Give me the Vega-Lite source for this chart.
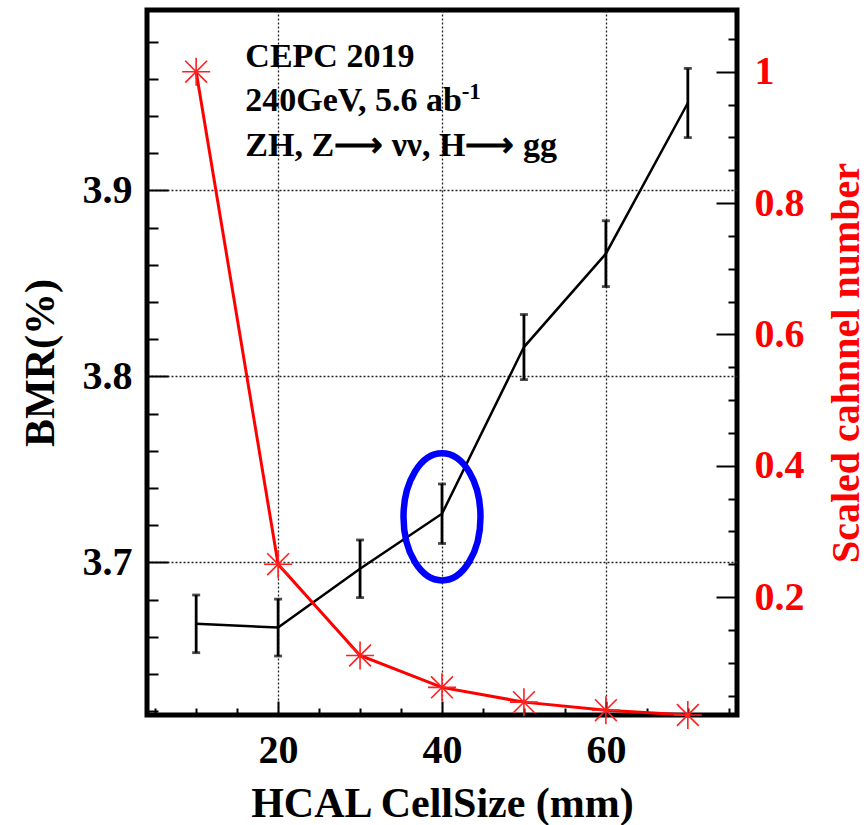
{
  "$schema": "https://vega.github.io/schema/vega-lite/v6.json",
  "width": 590,
  "height": 705,
  "autosize": "none",
  "padding": {"left": 147, "top": 10, "right": 129, "bottom": 110},
  "background": "white",
  "config": {
    "view": {"stroke": "black", "strokeWidth": 5},
    "font": "Liberation Serif",
    "axis": {
      "domain": false,
      "tickCount": 100,
      "labelFont": "Liberation Serif",
      "labelFontWeight": "bold",
      "labelFontSize": 40,
      "labelColor": "black",
      "labelFlush": false,
      "labelOverlap": false,
      "labelBound": false,
      "titleFont": "Liberation Serif",
      "titleFontWeight": "bold",
      "titleFontSize": 42,
      "titleColor": "black",
      "tickColor": "black",
      "tickWidth": 2,
      "gridColor": "#222222",
      "gridDash": [2, 2],
      "gridWidth": 1.3
    }
  },
  "datasets": {
    "bmr": [
      {"cell": 10, "bmr": 3.667, "lo": 3.6515, "hi": 3.6825},
      {"cell": 20, "bmr": 3.665, "lo": 3.6497, "hi": 3.6803},
      {"cell": 30, "bmr": 3.6966, "lo": 3.6811, "hi": 3.7121},
      {"cell": 40, "bmr": 3.7262, "lo": 3.7102, "hi": 3.7422},
      {"cell": 50, "bmr": 3.8158, "lo": 3.7983, "hi": 3.8333},
      {"cell": 60, "bmr": 3.866, "lo": 3.8483, "hi": 3.8837},
      {"cell": 70, "bmr": 3.947, "lo": 3.9284, "hi": 3.9656}
    ],
    "channels": [
      {"cell": 10, "chan": 1},
      {"cell": 20, "chan": 0.25},
      {"cell": 30, "chan": 0.111},
      {"cell": 40, "chan": 0.0625},
      {"cell": 50, "chan": 0.04},
      {"cell": 60, "chan": 0.0278},
      {"cell": 70, "chan": 0.0204}
    ],
    "highlight": [
      {"cell": 40, "bmr": 3.7245}
    ],
    "notes": [
      {"cell": 16, "bmr": 3.9661, "text": "CEPC 2019"},
      {"cell": 16, "bmr": 3.9425, "text": "240GeV, 5.6 ab"},
      {"cell": 16, "bmr": 3.9183, "text": "ZH, Z\u27f6  \u03bd\u03bd, H\u27f6 gg"}
    ],
    "superscript": [
      {"cell": 42.4, "bmr": 3.9494, "text": "-1"}
    ]
  },
  "layer": [
    {
      "layer": [
        {
          "data": {"name": "bmr"},
          "mark": {"type": "line", "color": "black", "strokeWidth": 2.5},
          "encoding": {
            "x": {
              "field": "cell",
              "type": "quantitative",
              "scale": {"domain": [4, 76], "nice": false, "zero": false},
              "axis": {
                "orient": "bottom",
                "values": [5, 10, 15, 20, 25, 30, 35, 40, 45, 50, 55, 60, 65, 70, 75],
                "grid": true,
                "gridOpacity": {"condition": {"test": "datum.value % 20 === 0", "value": 1}, "value": 0},
                "tickSize": {"condition": {"test": "datum.value % 20 === 0", "value": -14}, "value": -7},
                "labelExpr": "datum.value % 20 === 0 ? format(datum.value, 'd') : ''",
                "labelPadding": 29,
                "title": "HCAL CellSize (mm)",
                "titlePadding": 6
              }
            },
            "y": {
              "field": "bmr",
              "type": "quantitative",
              "scale": {"domain": [3.618, 3.997], "nice": false, "zero": false},
              "axis": {
                "orient": "left",
                "values": [3.62, 3.64, 3.66, 3.68, 3.7, 3.72, 3.74, 3.76, 3.78, 3.8, 3.82, 3.84, 3.86, 3.88, 3.9, 3.92, 3.94, 3.96, 3.98],
                "grid": true,
                "gridOpacity": {"condition": {"test": "abs(datum.value * 10 - round(datum.value * 10)) < 0.001", "value": 1}, "value": 0},
                "tickSize": {"condition": {"test": "abs(datum.value * 10 - round(datum.value * 10)) < 0.001", "value": -21}, "value": -11},
                "labelExpr": "abs(datum.value * 10 - round(datum.value * 10)) < 0.001 ? format(datum.value, '.1f') : ''",
                "labelPadding": 36,
                "title": "BMR(%)",
                "titlePadding": 20
              }
            }
          }
        },
        {
          "data": {"name": "bmr"},
          "mark": {
            "type": "errorbar",
            "color": "black",
            "thickness": 2.8,
            "ticks": {"size": 8, "thickness": 2.8, "color": "black"}
          },
          "encoding": {
            "x": {"field": "cell", "type": "quantitative", "scale": {"domain": [4, 76], "nice": false, "zero": false}, "axis": {"title": "HCAL CellSize (mm)"}},
            "y": {"field": "lo", "type": "quantitative", "scale": {"domain": [3.618, 3.997], "nice": false, "zero": false}, "axis": {"title": "BMR(%)"}},
            "y2": {"field": "hi"}
          }
        },
        {
          "data": {"name": "notes"},
          "mark": {"type": "text", "align": "left", "baseline": "alphabetic", "font": "Liberation Serif", "fontWeight": "bold", "fontSize": 34, "color": "black"},
          "encoding": {
            "x": {"field": "cell", "type": "quantitative", "scale": {"domain": [4, 76], "nice": false, "zero": false}},
            "y": {"field": "bmr", "type": "quantitative", "scale": {"domain": [3.618, 3.997], "nice": false, "zero": false}},
            "text": {"field": "text"}
          }
        },
        {
          "data": {"name": "superscript"},
          "mark": {"type": "text", "align": "left", "baseline": "alphabetic", "font": "Liberation Serif", "fontWeight": "bold", "fontSize": 23, "color": "black"},
          "encoding": {
            "x": {"field": "cell", "type": "quantitative", "scale": {"domain": [4, 76], "nice": false, "zero": false}},
            "y": {"field": "bmr", "type": "quantitative", "scale": {"domain": [3.618, 3.997], "nice": false, "zero": false}},
            "text": {"field": "text"}
          }
        },
        {
          "data": {"name": "highlight"},
          "mark": {
            "type": "point",
            "shape": "M 1 0 C 1 0.911 0.552 1.65 0 1.65 C -0.552 1.65 -1 0.911 -1 0 C -1 -0.911 -0.552 -1.65 0 -1.65 C 0.552 -1.65 1 -0.911 1 0 Z",
            "size": 5929,
            "filled": false,
            "stroke": "#0000ff",
            "strokeWidth": 6.5,
            "opacity": 1
          },
          "encoding": {
            "x": {"field": "cell", "type": "quantitative", "scale": {"domain": [4, 76], "nice": false, "zero": false}},
            "y": {"field": "bmr", "type": "quantitative", "scale": {"domain": [3.618, 3.997], "nice": false, "zero": false}}
          }
        }
      ]
    },
    {
      "data": {"name": "channels"},
      "layer": [
        {
          "mark": {"type": "line", "color": "#ff0000", "strokeWidth": 3},
          "encoding": {
            "x": {"field": "cell", "type": "quantitative", "scale": {"domain": [4, 76], "nice": false, "zero": false}},
            "y": {
              "field": "chan",
              "type": "quantitative",
              "scale": {"domain": [0.0204, 1.094], "nice": false, "zero": false},
              "axis": {
                "orient": "right",
                "values": [0.05, 0.1, 0.15, 0.2, 0.25, 0.3, 0.35, 0.4, 0.45, 0.5, 0.55, 0.6, 0.65, 0.7, 0.75, 0.8, 0.85, 0.9, 0.95, 1, 1.05],
                "grid": false,
                "tickSize": {"condition": {"test": "abs(datum.value * 5 - round(datum.value * 5)) < 0.001", "value": -21}, "value": -9},
                "labelExpr": "abs(datum.value * 5 - round(datum.value * 5)) < 0.001 ? format(datum.value, '~g') : ''",
                "labelPadding": 38,
                "labelColor": "#ff0000",
                "title": "Scaled cahnnel number",
                "titleColor": "#ff0000",
                "titleFontSize": 40,
                "titleAngle": 270,
                "titleBaseline": "top",
                "titlePadding": 22
              }
            }
          }
        },
        {
          "mark": {
            "type": "point",
            "shape": "M -1 0 L 1 0 M 0 -1 L 0 1 M -0.78 -0.78 L 0.78 0.78 M -0.78 0.78 L 0.78 -0.78",
            "size": 784,
            "filled": false,
            "stroke": "#ff2020",
            "strokeWidth": 1.6,
            "opacity": 1
          },
          "encoding": {
            "x": {"field": "cell", "type": "quantitative", "scale": {"domain": [4, 76], "nice": false, "zero": false}},
            "y": {"field": "chan", "type": "quantitative", "scale": {"domain": [0.0204, 1.094], "nice": false, "zero": false}}
          }
        }
      ]
    }
  ],
  "resolve": {"scale": {"y": "independent"}}
}
